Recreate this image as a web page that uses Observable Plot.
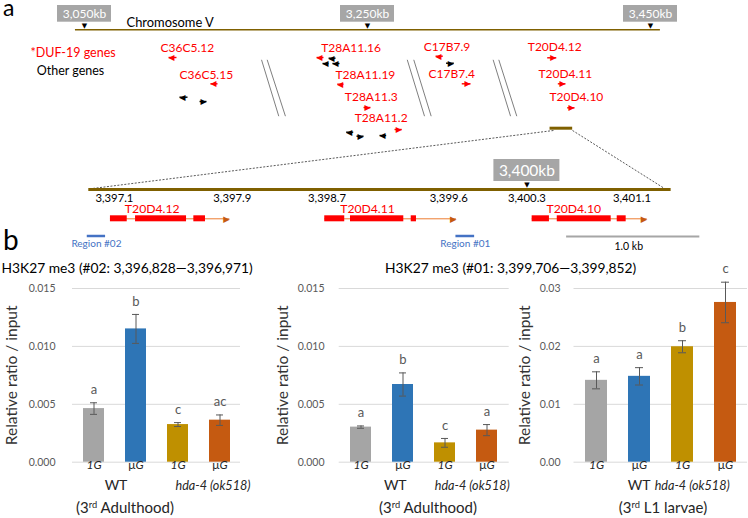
<!DOCTYPE html>
<html><head><meta charset="utf-8">
<script src="https://cdn.jsdelivr.net/npm/d3@7"></script>
<script src="https://cdn.jsdelivr.net/npm/@observablehq/plot@0.6"></script>
<style>
body{margin:0;background:#fff;font-family:Lato,"Open Sans",sans-serif;}
#fig{position:relative;width:748px;height:518px;overflow:hidden;background:#fff;}
.lbl{position:absolute;white-space:nowrap;}
.lbl sup{font-size:0.62em;line-height:0;vertical-align:0.55em;}
</style></head><body><div id="fig"></div><script>
// ---------------- Panel a : overview of chromosome V (kb along the drawn, broken axis) ----------------
const chromName = "Chromosome V";
const chromNameKb = 3079.7;
const chromSpan = [3043.6, 3457.0];
const overviewMarkKb = [3050, 3250, 3450];
const overviewMarkLabels = ["3,050kb", "3,250kb", "3,450kb"];
const legendLabels = ["*DUF-19 genes", "Other genes"];
const legendColors = ["#FF0000", "#000000"];
const legendKb = [3041.9, 3040.1];
const legendLane = [52.7, 70];
const geneNames = ["C36C5.12","C36C5.15","T28A11.16","T28A11.19","T28A11.3","T28A11.2","C17B7.9","C17B7.4","T20D4.12","T20D4.11","T20D4.10"];
const geneLabelKb = [3103.7,3117.1,3217.3,3227.4,3234.0,3241.0,3289.8,3293.1,3363.3,3370.8,3378.6];
const geneLabelLane = [47.2,74.5,47.2,74.5,96.8,117.5,46.5,73.5,46.5,73.5,96.8];
// small strand arrows: from -> to (kb), lane, kind
const arrowFromKb = [3115.0,3144.0,3218.9,3233.0,3247.2,3269.1,3303.2,3316.6,3377.0,3384.5,3391.1, 3122.8,3131.3,3227.4,3222.4,3230.2,3239.9,3242.2,3263.2,3305.5];
const arrowToKb   = [3109.4,3139.0,3214.0,3228.6,3252.1,3274.2,3298.1,3322.8,3383.4,3389.9,3396.3, 3117.1,3136.2,3222.5,3218.2,3225.2,3234.9,3247.2,3258.5,3311.0];
const arrowLane   = [57,83.3,57,83.7,107,129,55.7,83.3,57.3,83.3,107.3, 96.7,101,57.7,63,63,131.7,135.7,135,62.7];
const arrowKind   = ["duf","duf","duf","duf","duf","duf","duf","duf","duf","duf","duf","other","other","other","other","other","other","other","other","other"];
// axis-break marks (double slashes)
const breakTopKb = [3175.1,3179.1,3278.1,3282.7,3338.8,3342.8];
const breakBottomKb = [3187.3,3192.0,3290.3,3295.0,3351.1,3355.5];
const zoomSegmentKb = [3379.0, 3395.0];
const connectorFromKb = [3381.4, 3394.9];
const connectorToKb = [3055.65, 3459.9];

// ---------------- Panel a : detail track (kb) ----------------
const detailSpan = [3396.84, 3401.386];
const detailMarkKb = 3400.26;
const detailMarkLabel = "3,400kb";
const detailTickKb = [3397.04, 3397.96, 3398.70, 3399.65, 3400.26, 3401.08];
const detailTickLabels = ["3,397.1","3,397.9","3,398.7","3,399.6","3,400.3","3,401.1"];
const detailGenes = ["T20D4.12","T20D4.11","T20D4.10"];
const detailGeneLabelKb = [3397.335, 3399.016, 3400.626];
const detailGeneStart = [3397.009, 3398.682, 3400.301];
const detailGeneTip = [3397.941, 3399.71, 3401.199];
const exonStart = [[3397.009,3397.205,3397.66],[3398.682,3398.883,3399.357],[3400.301,3400.497,3400.965]];
const exonEnd   = [[3397.140,3397.603,3397.751],[3398.838,3399.299,3399.398],[3400.436,3400.918,3401.035]];
const regionNames = ["Region #02","Region #01"];
const regionStart = [3396.828, 3399.706];
const regionEnd = [3396.971, 3399.852];
const scaleBarKb = [3400.57, 3401.61];
const scaleBarLabel = "1.0 kb";

// ---------------- Panel b : ChIP-qPCR ----------------
const categories = ["WT 1G","WT μG","hda-4 1G","hda-4 μG"];
const catLabels = ["1G","μG","1G","μG"];
const groupLabels = ["WT","hda-4 (ok518)"];
const barColors = ["#A5A5A5","#2E75B6","#BF9000","#C55A11"];
const r02AdultMean = [0.00463, 0.01151, 0.00325, 0.00363];
const r02AdultErr  = [0.00050, 0.00125, 0.00017, 0.00045];
const r02AdultLetters = ["a","b","c","ac"];
const r01AdultMean = [0.00303, 0.00671, 0.00167, 0.00277];
const r01AdultErr  = [0.00010, 0.00100, 0.00038, 0.00048];
const r01AdultLetters = ["a","b","c","a"];
const r01LarvaeMean = [0.01414, 0.01483, 0.01994, 0.02759];
const r01LarvaeErr  = [0.00147, 0.00150, 0.00104, 0.00350];
const r01LarvaeLetters = ["a","a","b","c"];
const ticksSmall = [0, 0.005, 0.010, 0.015];
const ticksLarge = [0, 0.01, 0.02, 0.03];

const fig = document.getElementById("fig");
const olive = "#7F6000";
const RED = "#FF0000";
const FONT = "Lato, 'Open Sans', sans-serif";
const GLYPH = "'DejaVu Sans', sans-serif";

// y is cap-centre (default) or baseline (o.baseline); Lato ascent .987 / descent .213
function lbl(html, x, y, o = {}) {
  const size = o.size || 14;
  const lh = o.lh || 1;
  const d = document.createElement("div");
  d.className = "lbl";
  d.innerHTML = html;
  d.style.fontSize = size + "px";
  d.style.lineHeight = lh;
  d.style.color = o.color || "#000";
  if (o.italic) d.style.fontStyle = "italic";
  const base = ((lh - 1.2) / 2 + 0.987) * size;
  const top = o.baseline ? y - base : y - base + 0.36 * size;
  d.style.top = top + "px";
  d.style.left = x + "px";
  if (o.anchor === "middle") d.style.transform = "translateX(-50%)";
  fig.appendChild(d);
  return d;
}
function put(svg, left, top) {
  svg.style.position = "absolute";
  svg.style.left = left + "px";
  svg.style.top = top + "px";
  fig.appendChild(svg);
}

// ---------- Overview plot ----------
const pxPerKb = 1.415;
const ovDomain = [3050 - 84 / pxPerKb, 3050 + (748 - 84) / pxPerKb];
const lanes = {domain: [0, 250], range: [0, 250], axis: null};
const arrows = arrowFromKb.map((x1, i) => ({x1, x2: arrowToKb[i], lane: arrowLane[i], color: arrowKind[i] === "duf" ? RED : "#000"}));
const arrowsR = arrows.filter(d => d.x2 > d.x1), arrowsL = arrows.filter(d => d.x2 < d.x1);
const breaks = breakTopKb.map((x1, i) => ({x1, x2: breakBottomKb[i]}));
const connectors = connectorFromKb.map((x1, i) => ({x1, x2: connectorToKb[i]}));
const gi = geneNames.map((_, i) => i);
const li = legendLabels.map((_, i) => i);

const ov = Plot.plot({
  width: 748, height: 250, margin: 0,
  style: {background: "transparent", fontFamily: FONT, overflow: "visible"},
  x: {domain: ovDomain, axis: null},
  y: lanes,
  marks: [
    Plot.ruleY([29.3], {x1: chromSpan[0], x2: chromSpan[1], stroke: olive, strokeWidth: 1.6}),
    Plot.rect(overviewMarkKb, {x1: d => d, x2: d => d, y1: 5, y2: 21.7, insetLeft: -27, insetRight: -27, fill: "#A6A6A6"}),
    Plot.text(overviewMarkKb, {x: d => d, y: 13.6, text: (d, i) => overviewMarkLabels[i], fill: "white", fontSize: 12}),
    Plot.text(overviewMarkKb, {x: d => d, y: 25, text: () => "▼", fill: "black", fontSize: 7, fontFamily: GLYPH}),
    Plot.text([chromName], {x: chromNameKb, y: 22.7, text: d => d, textAnchor: "start", fontSize: 12.9, fill: "black"}),
    Plot.text(li, {x: i => legendKb[i], y: i => legendLane[i], text: i => legendLabels[i], fill: i => legendColors[i], fontSize: 12.5}),
    Plot.text(gi, {x: i => geneLabelKb[i], y: i => geneLabelLane[i], text: i => geneNames[i], textAnchor: "start", fill: RED, fontSize: 12}),
    Plot.link(arrows, {x1: "x1", x2: "x2", y1: "lane", y2: "lane", stroke: "color", strokeWidth: 1.4}),
    Plot.text(arrowsR, {x: "x2", y: "lane", text: () => "▶", textAnchor: "end", fill: "color", fontSize: 7.8, fontFamily: GLYPH}),
    Plot.text(arrowsL, {x: "x2", y: "lane", text: () => "◀", textAnchor: "start", fill: "color", fontSize: 7.8, fontFamily: GLYPH}),
    Plot.link(breaks, {x1: "x1", x2: "x2", y1: 59.3, y2: 115.7, stroke: "#7F7F7F", strokeWidth: 1}),
    Plot.ruleY([127.7], {x1: zoomSegmentKb[0], x2: zoomSegmentKb[1], stroke: olive, strokeWidth: 3}),
    Plot.link(connectors, {x1: "x1", x2: "x2", y1: 130, y2: 188, stroke: "#595959", strokeWidth: 1, strokeDasharray: "2,1.5"})
  ]
});
put(ov, 0, 0);

// ---------- Detail plot ----------
const detPxPerKb = 128.1;
const detDomain = [3397.1 - 121.6 / detPxPerKb, 3397.1 + (748 - 121.6) / detPxPerKb];
const exons = exonStart.flatMap((s, g) => s.map((x1, j) => ({x1, x2: exonEnd[g][j]})));
const dgi = detailGenes.map((_, i) => i);
const ri = regionNames.map((_, i) => i);
const ti = detailTickKb.map((_, i) => i);
const det = Plot.plot({
  width: 748, height: 250, margin: 0,
  style: {background: "transparent", fontFamily: FONT, overflow: "visible"},
  x: {domain: detDomain, axis: null},
  y: lanes,
  marks: [
    Plot.ruleY([189], {x1: detailSpan[0], x2: detailSpan[1], stroke: olive, strokeWidth: 3}),
    Plot.rect([detailMarkKb], {x1: d => d, x2: d => d, y1: 159, y2: 181, insetLeft: -33, insetRight: -33, fill: "#A6A6A6"}),
    Plot.text([detailMarkKb], {x: d => d, y: 170.5, text: () => detailMarkLabel, fill: "white", fontSize: 15.5}),
    Plot.text([detailMarkKb], {x: d => d, y: 184.5, text: () => "▼", fill: "black", fontSize: 7, fontFamily: GLYPH}),
    Plot.text(ti, {x: i => detailTickKb[i], y: 197.5, text: i => detailTickLabels[i], fill: "black", fontSize: 11.3}),
    Plot.text(dgi, {x: i => detailGeneLabelKb[i], y: 208.3, text: i => detailGenes[i], fill: RED, fontSize: 12.2}),
    Plot.ruleY(dgi, {y: 218.3, x1: i => detailGeneStart[i], x2: i => detailGeneTip[i], stroke: "#ED7D31", strokeWidth: 1}),
    Plot.text(dgi, {x: i => detailGeneTip[i], y: 218.3, text: () => "▶", textAnchor: "end", fill: "#C55A11", fontSize: 8.5, fontFamily: GLYPH}),
    Plot.rect(exons, {x1: "x1", x2: "x2", y1: 215.3, y2: 221.3, fill: RED}),
    Plot.ruleY(ri, {y: 235.5, x1: i => regionStart[i], x2: i => regionEnd[i], stroke: "#4472C4", strokeWidth: 2.5}),
    Plot.text(ri, {x: i => (regionStart[i] + regionEnd[i]) / 2, y: 243, text: i => regionNames[i], fill: "#4472C4", fontSize: 10}),
    Plot.ruleY([236], {x1: scaleBarKb[0], x2: scaleBarKb[1], stroke: "#A6A6A6", strokeWidth: 2}),
    Plot.text([scaleBarLabel], {x: (scaleBarKb[0] + scaleBarKb[1]) / 2 - 0.035, y: 246.5, text: d => d, fill: "black", fontSize: 10.5})
  ]
});
put(det, 0, 0);

// ---------- Bar charts ----------
function barChart({mean, err, letters, yMax, yTicks, yFmt, left, width, marginLeft, marginRight, tickPadding, titleDx, groupDx}) {
  const data = categories.map((c, i) => ({cat: c, sub: catLabels[i], mean: mean[i], err: err[i], letter: letters[i], color: barColors[i]}));
  const step = (width - marginLeft - marginRight) / 4;
  const svg = Plot.plot({
    width, height: 258, marginTop: 28, marginBottom: 56.3, marginLeft, marginRight,
    style: {background: "transparent", fontFamily: FONT, fontSize: "10.5px", color: "#595959", overflow: "visible"},
    x: {domain: categories, paddingInner: 0.5, paddingOuter: 0.25, axis: null},
    y: {domain: [0, yMax], ticks: yTicks, tickFormat: yFmt, tickSize: 0, tickPadding, label: null},
    marks: [
      Plot.ruleY(yTicks, {stroke: "#D9D9D9"}),
      Plot.barY(data, {x: "cat", y: "mean", fill: "color"}),
      Plot.ruleX(data, {x: "cat", y1: d => d.mean - d.err, y2: d => d.mean + d.err, stroke: "#595959"}),
      Plot.tickY(data, {x: "cat", y: d => d.mean + d.err, insetLeft: 7, insetRight: 7, stroke: "#595959"}),
      Plot.tickY(data, {x: "cat", y: d => d.mean - d.err, insetLeft: 7, insetRight: 7, stroke: "#595959"}),
      Plot.text(data, {x: "cat", y: d => d.mean + d.err, text: "letter", dy: -13, fontSize: 13, fill: "#595959"}),
      Plot.text(data, {x: "cat", text: "sub", frameAnchor: "bottom", dy: 7, fontSize: 12, fontStyle: "italic", fill: "#262626"}),
      Plot.text([categories[0]], {x: d => d, text: () => groupLabels[0], frameAnchor: "bottom", dy: 28, dx: step / 2 + groupDx[0], fontSize: 14, fill: "#262626"}),
      Plot.text([categories[2]], {x: d => d, text: () => groupLabels[1], frameAnchor: "bottom", dy: 28, dx: step / 2 + groupDx[1], fontSize: 12.6, fontStyle: "italic", fill: "#262626"}),
      Plot.text(["Relative ratio / input"], {text: d => d, frameAnchor: "left", textAnchor: "middle", rotate: -90, dx: titleDx, fontSize: 15.5, fill: "#333"})
    ]
  });
  svg.querySelectorAll("text").forEach(t => {
    if (t.textContent === "μG") {
      t.textContent = "";
      const a = document.createElementNS("http://www.w3.org/2000/svg", "tspan");
      a.setAttribute("font-style", "normal"); a.textContent = "μ";
      const b = document.createElementNS("http://www.w3.org/2000/svg", "tspan");
      b.textContent = "G";
      t.appendChild(a); t.appendChild(b);
    }
  });
  put(svg, left, 260);
}

barChart({mean: r02AdultMean, err: r02AdultErr, letters: r02AdultLetters, yMax: 0.015, yTicks: ticksSmall, yFmt: ".3f",
  left: 0, width: 250, marginLeft: 72, marginRight: 10, tickPadding: 17, titleDx: -60.3, groupDx: [1, 14]});
barChart({mean: r01AdultMean, err: r01AdultErr, letters: r01AdultLetters, yMax: 0.015, yTicks: ticksSmall, yFmt: ".3f",
  left: 250, width: 265, marginLeft: 88.7, marginRight: 6.3, tickPadding: 14.7, titleDx: -55.7, groupDx: [13, 6]});
barChart({mean: r01LarvaeMean, err: r01LarvaeErr, letters: r01LarvaeLetters, yMax: 0.03, yTicks: ticksLarge, yFmt: ".2f",
  left: 505, width: 243, marginLeft: 68.5, marginRight: 1, tickPadding: 13.5, titleDx: -48.5, groupDx: [21, -12]});

// ---------- Text outside the plots ----------
lbl("a", 3, 16.5, {size: 23, baseline: true, lh: 0.5});
lbl("b", 3, 250, {size: 28, baseline: true, lh: 0.8});
lbl("H3K27 me3 (#02: 3,396,828—3,396,971)", 1.5, 268.3, {size: 13.8});
lbl("H3K27 me3 (#01: 3,399,706—3,399,852)", 385, 268.3, {size: 13.8});
lbl("(3<sup>rd</sup> Adulthood)", 125, 508, {size: 15, anchor: "middle", color: "#262626"});
lbl("(3<sup>rd</sup> Adulthood)", 428, 508, {size: 15, anchor: "middle", color: "#262626"});
lbl("(3<sup>rd</sup> L1 larvae)", 663, 508, {size: 15, anchor: "middle", color: "#262626"});
</script></body></html>
